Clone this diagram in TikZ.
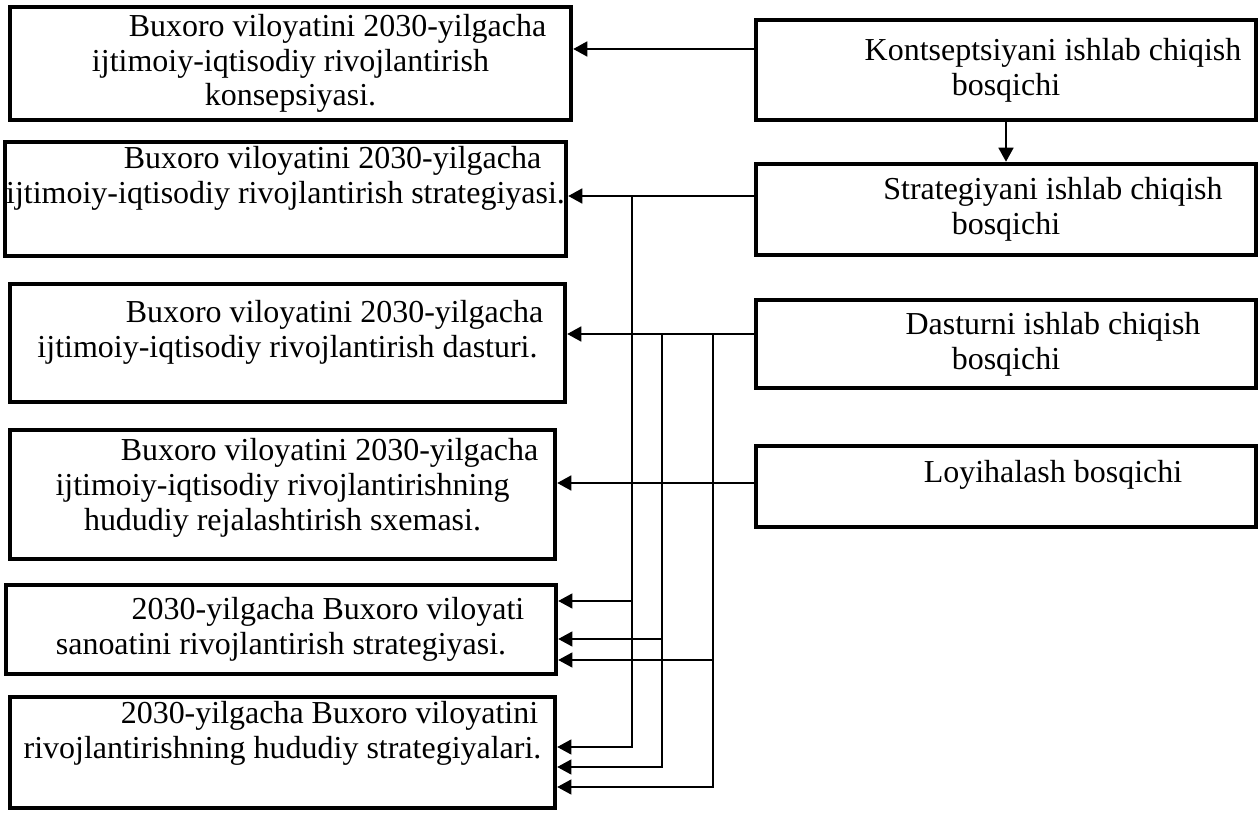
\documentclass[tikz,border=0pt]{standalone}
\usepackage{fontspec}
\setmainfont{Liberation Serif}
\usetikzlibrary{arrows.meta}
\newcommand{\firstind}{\hspace*{1.88cm}}

\begin{document}
\begin{tikzpicture}[x=0.02cm, y=-0.02cm,
	box/.style={draw, line width=2.6pt, align=center, inner sep=0pt, font=\fontsize{18.2}{19.8}\selectfont},
	arr/.style={line width=1.1pt, -{Triangle[length=8pt, width=8.5pt]}},
	branch/.style={line width=0.8pt, -{Triangle[length=8pt, width=8.5pt]}}]
	\useasboundingbox (0,0) rectangle (1259,814);
	\node[box, minimum width=11.22cm, minimum height=2.26cm] (L1) at (290.5,63.5) {\firstind Buxoro viloyatini 2030-yilgacha\\ ijtimoiy-iqtisodiy rivojlantirish\\ konsepsiyasi.};
	\node[box, minimum width=11.22cm, minimum height=2.28cm, text depth=0.96cm] (L2) at (285.5,199) {\firstind Buxoro viloyatini 2030-yilgacha\\ ijtimoiy-iqtisodiy rivojlantirish strategiyasi.};
	\node[box, minimum width=11.1cm, minimum height=2.36cm, text depth=0.56cm] (L3) at (287.5,343) {\firstind Buxoro viloyatini 2030-yilgacha\\ ijtimoiy-iqtisodiy rivojlantirish dasturi.};
	\node[box, minimum width=10.9cm, minimum height=2.58cm, text depth=0.4cm] (L4) at (282.5,494.5) {\firstind Buxoro viloyatini 2030-yilgacha\\ ijtimoiy-iqtisodiy rivojlantirishning\\ hududiy rejalashtirish sxemasi.};
	\node[box, minimum width=11cm, minimum height=1.78cm] (L5) at (281,629.5) {\firstind 2030-yilgacha Buxoro viloyati\\ sanoatini rivojlantirish strategiyasi.};
	\node[box, minimum width=10.9cm, minimum height=2.22cm, text depth=0.9cm] (L6) at (282.5,752.5) {\firstind 2030-yilgacha Buxoro viloyatini\\ rivojlantirishning hududiy strategiyalari.};
	\node[box, minimum width=10cm, minimum height=2cm] (R1) at (1006,70) {\firstind Kontseptsiyani ishlab chiqish\\ bosqichi};
	\node[box, minimum width=10cm, minimum height=1.82cm] (R2) at (1006,209.5) {\firstind Strategiyani ishlab chiqish\\ bosqichi};
	\node[box, minimum width=10cm, minimum height=1.76cm] (R3) at (1006,344) {\firstind Dasturni ishlab chiqish\\ bosqichi};
	\node[box, minimum width=10cm, minimum height=1.62cm, text depth=0.6cm] (R4) at (1006,486.5) {\firstind Loyihalash bosqichi};
	\coordinate (r1) at (0,49);
	\coordinate (r2) at (0,196);
	\coordinate (r3) at (0,334);
	\coordinate (r4) at (0,483);
	\coordinate (c1) at (632,196);
	\coordinate (c2) at (662,334);
	\coordinate (c3) at (713,334);
	\draw[arr] (R1.west |- r1) -- (L1.east |- r1);
	\draw[arr] (R1.south) -- (R2.north);
	\draw[arr] (R2.west |- r2) -- (L2.east |- r2);
	\draw[arr] (R3.west |- r3) -- (L3.east |- r3);
	\draw[arr] (R4.west |- r4) -- (L4.east |- r4);
	\foreach \c/\a/\b in {c1/601/747, c2/639/767, c3/660/787} {
		\draw[branch] (\c) |- (L6.east |- 0,\b);
		\draw[branch] (\c |- 0,\a) -- (L5.east |- 0,\a);
	}
\end{tikzpicture}
\end{document}
